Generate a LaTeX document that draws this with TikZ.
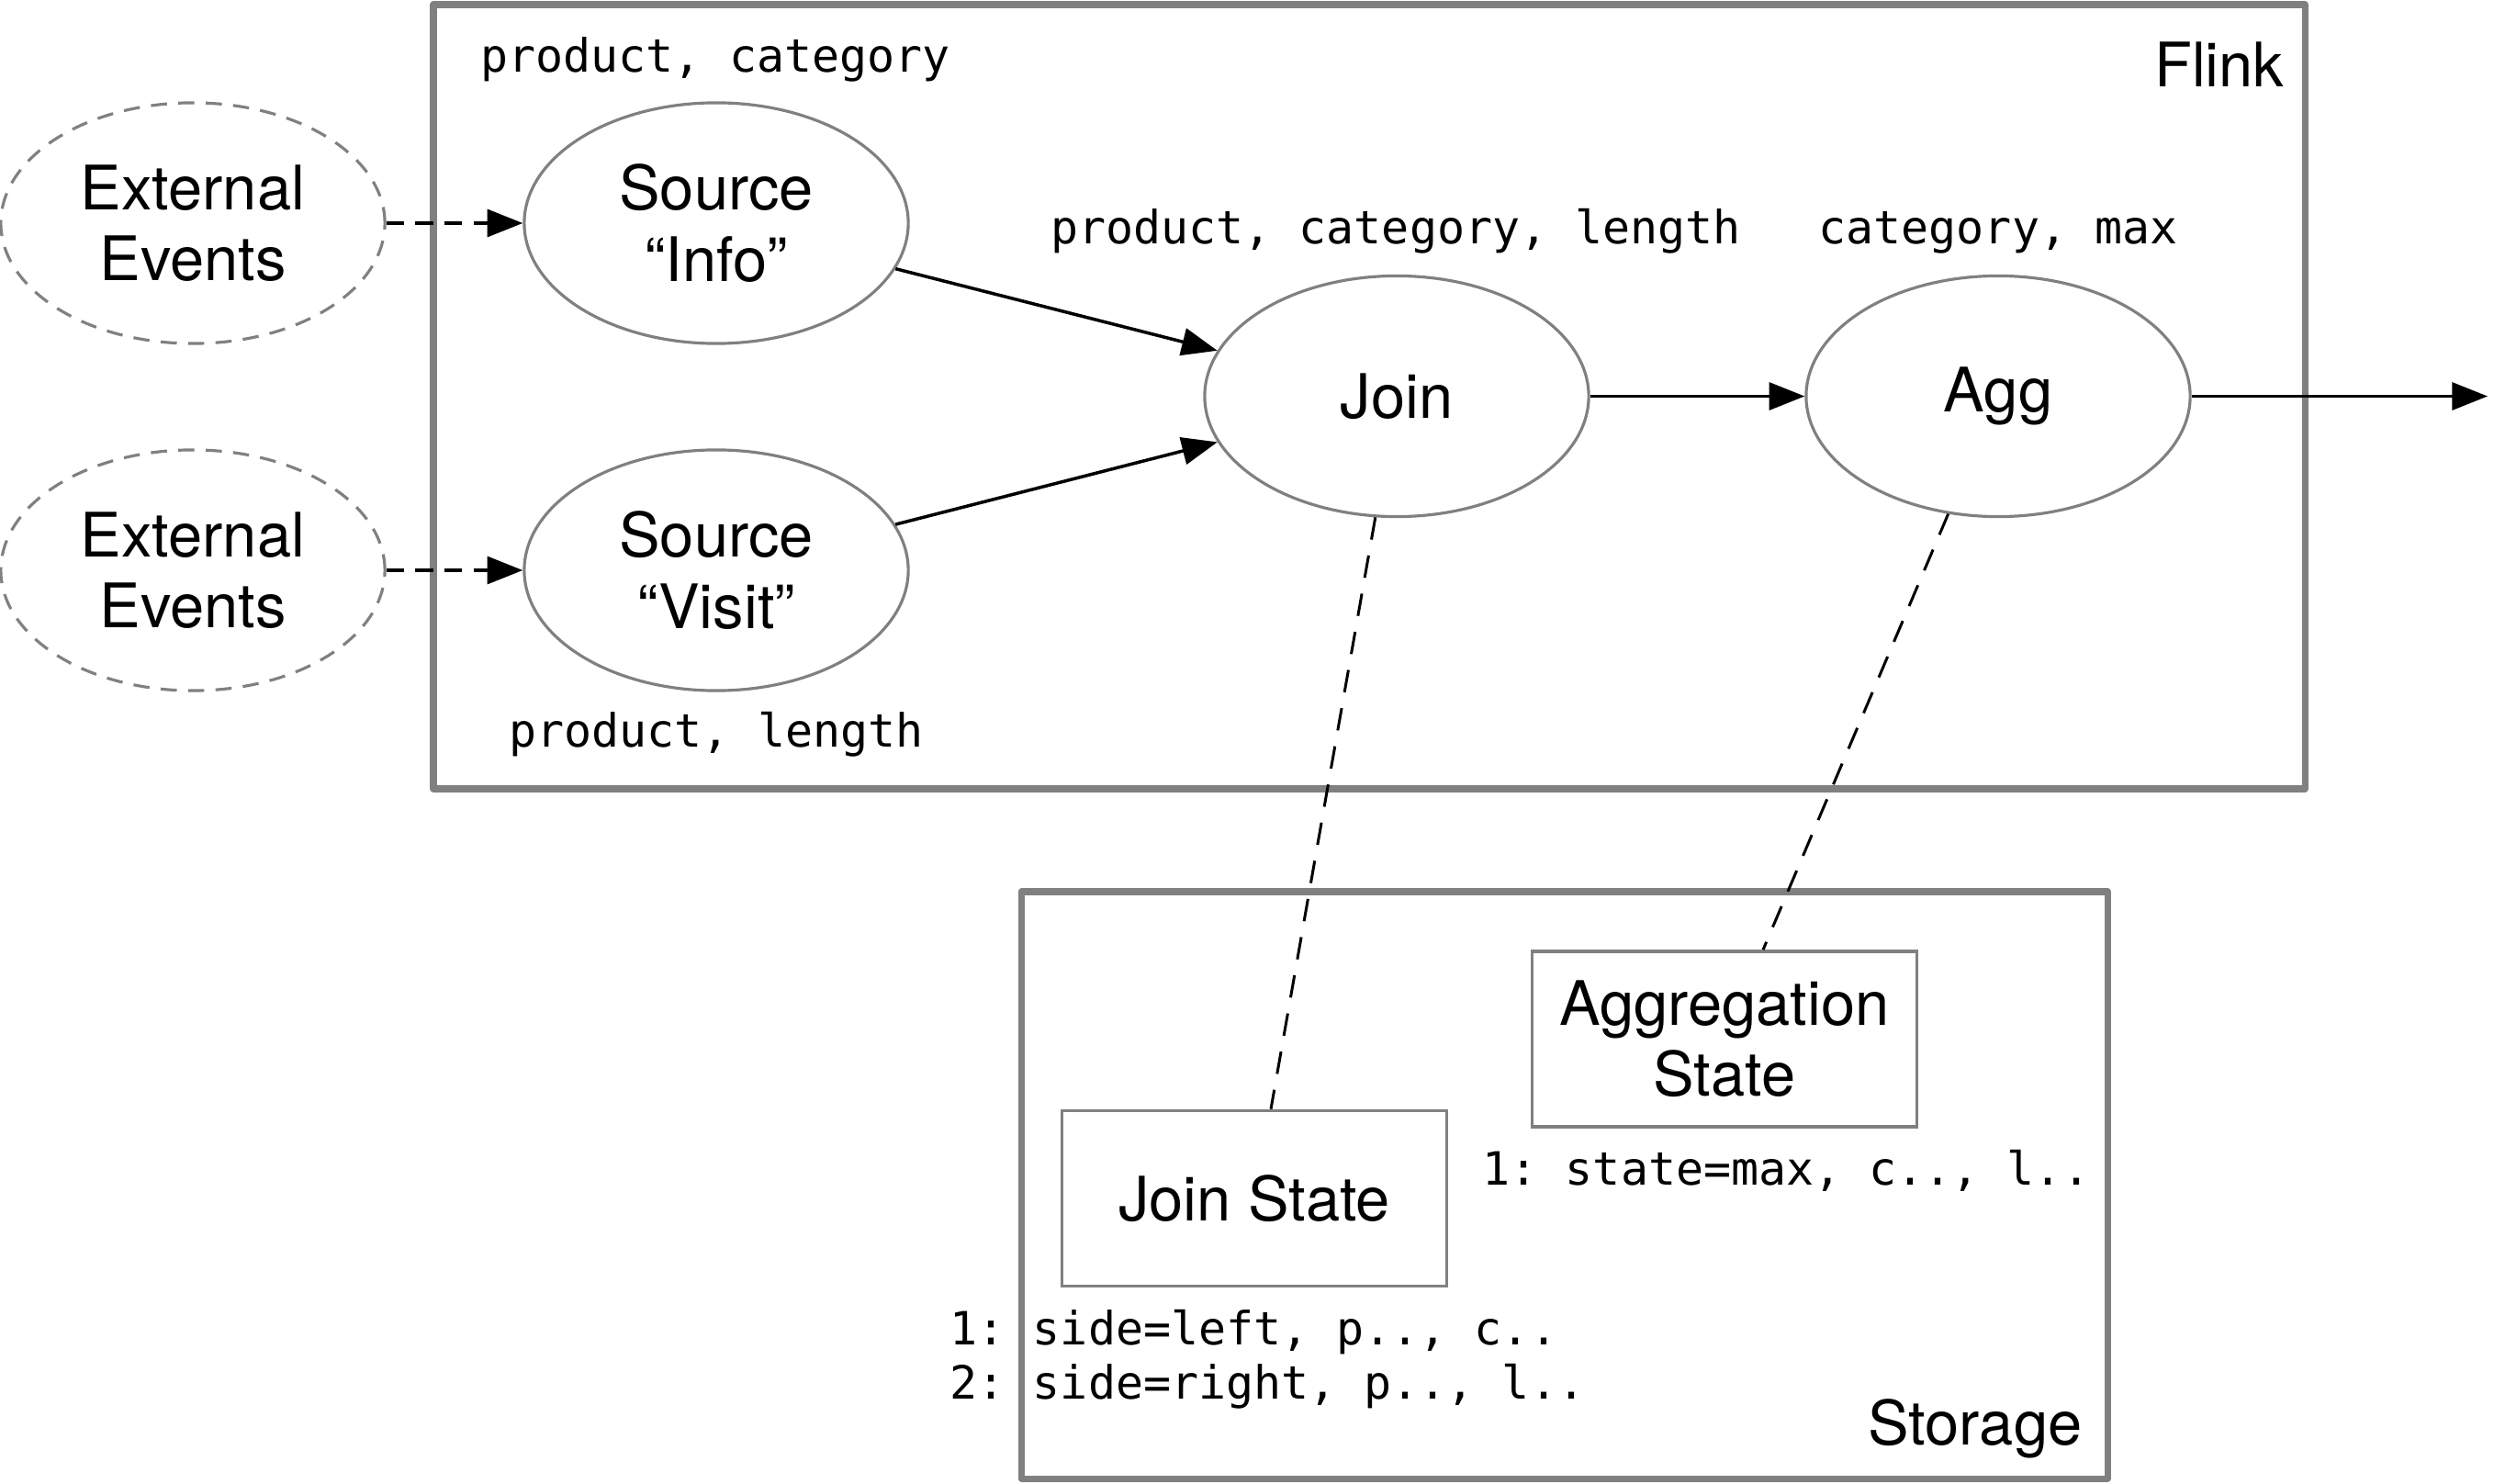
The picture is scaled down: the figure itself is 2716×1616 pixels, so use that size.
\documentclass[tikz,border=0pt]{standalone}
\usepackage{fontspec}
\setmainfont{TeX Gyre Heros}
\setmonofont{DejaVu Sans Mono}
\usetikzlibrary{arrows.meta,shapes.geometric}
\definecolor{linegray}{gray}{0.5}
\tikzset{
  op/.style={ellipse, draw=linegray, line width=0.9pt, minimum width=4.18cm, minimum height=2.62cm, align=center, font=\fontsize{19}{22}\selectfont},
  ext/.style={op, dash pattern=on 5pt off 3.5pt},
  statebox/.style={rectangle, draw=linegray, line width=1pt, minimum width=4.19cm, minimum height=1.91cm, align=center, font=\fontsize{19}{22}\selectfont},
  frame/.style={draw=linegray, line width=2pt, line join=round},
  fields/.style={inner sep=0pt, font=\ttfamily\fontsize{14.2}{17}\selectfont},
  title/.style={inner sep=0pt, anchor=base east, font=\fontsize{19}{22}\selectfont},
  flow/.style={line width=1pt, -{Triangle[length=11pt,width=8.5pt]}},
  feed/.style={flow, dash pattern=on 5.5pt off 3.5pt},
  link/.style={line width=0.85pt, dash pattern=on 7pt off 5pt}
}
\begin{document}
\begin{tikzpicture}[x=0.01cm, y=-0.01cm]
        \useasboundingbox (0,0) rectangle (2716,1616);

        % Draw the Flink and Storage frames
        \draw[frame] (472,5) rectangle (2510,859);
        \draw[frame] (1112,971) rectangle (2295,1610);
        \node[title] (flinklbl) at (2488,95) {Flink};
        \node[title] (storagelbl) at (2268,1573) {Storage};

        % Operators
        \node[ext] (ext1) at (210,243) {External\\Events};
        \node[ext] (ext2) at (210,621) {External\\Events};
        \node[op] (info) at (780,243) {Source\\“Info”};
        \node[op] (visit) at (780,621) {Source\\“Visit”};
        \node[op] (join) at (1521,431.5) {Join};
        \node[op] (agg) at (2176,431.5) {Agg};
        \coordinate (sink) at (2709,431.5);

        % State in storage
        \node[statebox] (jstate) at (1366,1305) {Join State};
        \node[statebox] (astate) at (1878,1131.5) {Aggregation\\State};

        % Record fields
        \node[fields, anchor=base] (finfo) at (779,78.6) {product, category};
        \node[fields, anchor=base] (fvisit) at (780,813) {product, length};
        \node[fields, anchor=base] (fjoin) at (1520,265.6) {product, category, length};
        \node[fields, anchor=base] (fagg) at (2176,265.6) {category, max};
        \node[fields, anchor=base west] (arow) at (1614,1290) {1: state=max, c.., l..};
        \node[fields, anchor=base west] (jrow1) at (1034,1464) {1: side=left, p.., c..};
        \node[fields, anchor=base west] (jrow2) at (1034,1523) {2: side=right, p.., l..};

        % Connections
        \draw[feed] (ext1) -- (info);
        \draw[feed] (ext2) -- (visit);
        \draw[flow] (info) -- (join);
        \draw[flow] (visit) -- (join);
        \draw[flow] (join) -- (agg);
        \draw[flow] (agg) -- (sink);
        \draw[link] (join.260) -- ([xshift=0.18cm]jstate.north);
        \draw[link] (agg.247) -- ([xshift=0.42cm]astate.north);
    \end{tikzpicture}
\end{document}
